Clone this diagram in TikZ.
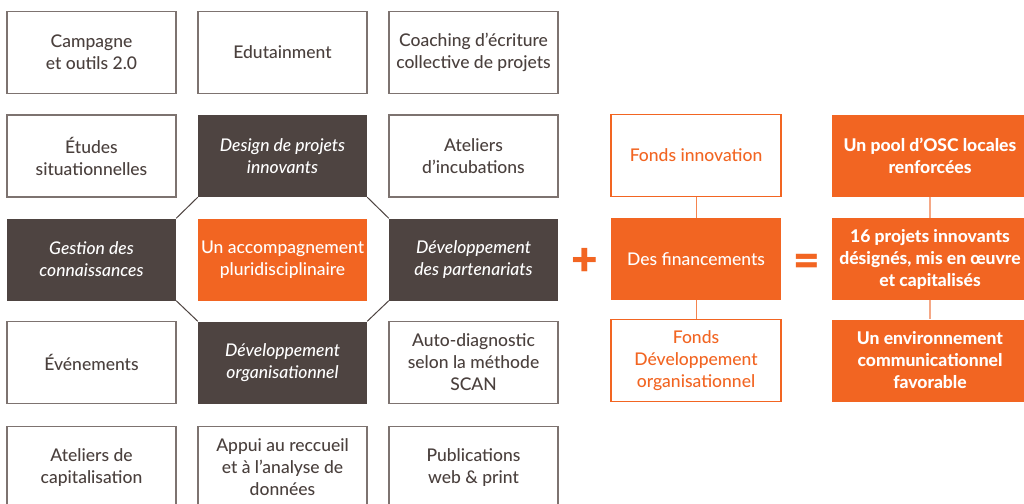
\documentclass[tikz,border=0pt]{standalone}
\usepackage{fontspec}
\setmainfont{Lato Medium}[ItalicFont={Lato Medium Italic}, BoldFont={Lato Heavy}]
\newfontfamily\heavyfont{Lato Black}
\definecolor{ink}{HTML}{4A403D}
\definecolor{cocoa}{HTML}{4E4441}
\definecolor{frame}{HTML}{7D7370}
\definecolor{brand}{HTML}{F26522}
\definecolor{peach}{HTML}{F5A886}
\tikzset{
  cell/.style={minimum width=169pt, minimum height=82pt, align=center, inner sep=2pt,
    font=\fontsize{17.5}{22}\selectfont},
  plainbox/.style={cell, draw=frame, line width=1.1pt, fill=white, text=ink},
  darkbox/.style={cell, fill=cocoa, text=white, font=\fontsize{17.5}{22}\selectfont\itshape},
  corebox/.style={cell, fill=brand, text=white},
  fundbox/.style={cell, minimum width=170pt, draw=brand, line width=1.5pt, fill=white, text=brand},
  resultbox/.style={cell, minimum width=196pt, fill=brand, text=white, font=\fontsize{17.5}{22}\selectfont\bfseries},
  octo/.style={draw=cocoa, line width=1pt},
  link/.style={draw=brand!80, line width=1pt},
  reslink/.style={draw=peach, line width=1.2pt},
  sign/.style={text=brand, font=\fontsize{46}{46}\selectfont\heavyfont, inner sep=0pt}
}
\begin{document}
\begin{tikzpicture}[x=1pt, y=-1pt]
\useasboundingbox (0,0) rectangle (1024,503);
\clip (0,0) rectangle (1024,503);
\fill[white] (0,0) rectangle (1024,503);

% outer ring of activity boxes
\node[plainbox] (camp) at (91.5,52.5) {Campagne\\et outils 2.0};
\node[plainbox] (edu)  at (282.5,52.5) {Edutainment};
\node[plainbox] (coach) at (473.5,52.5) {Coaching d’écriture\\collective de projets};
\node[plainbox] (etud) at (91.5,156) {Études\\situationnelles};
\node[plainbox] (incub) at (473.5,156) {Ateliers\\d’incubations};
\node[plainbox] (even) at (91.5,362.5) {Événements};
\node[plainbox] (scan) at (473.5,362.5) {Auto-diagnostic\\selon la méthode\\SCAN};
\node[plainbox] (capi) at (91.5,467.5) {Ateliers de\\capitalisation};
\node[plainbox] (appui) at (282.5,467.5) {Appui au reccueil\\et à l’analyse de\\données};
\node[plainbox] (pub) at (473.5,467.5) {Publications\\web \& print};

% the four axes around the core
\node[darkbox] (design) at (282.5,156) {Design de projets\\innovants};
\node[darkbox] (gest) at (91.5,259.5) {Gestion des\\connaissances};
\node[darkbox] (part) at (473.5,259.5) {Développement\\des partenariats};
\node[darkbox] (orga) at (282.5,362.5) {Développement\\organisationnel};
\node[corebox] (core) at (282.5,259.5) {Un accompagnement\\pluridisciplinaire};

% octagonal ring joining the axes
\draw[octo] (gest.north east) -- (design.south west);
\draw[octo] (design.south east) -- (part.north west);
\draw[octo] (part.south west) -- (orga.north east);
\draw[octo] (orga.north west) -- (gest.south east);

% funding column
\node[fundbox] (finno) at (696,155.5) {Fonds innovation};
\node[cell, minimum width=170pt, fill=brand, text=white] (fin) at (696,259) {Des financements};
\node[fundbox] (fdev) at (696,360.5) {Fonds\\Développement\\organisationnel};
\draw[link] (finno) -- (fin);
\draw[link] (fin) -- (fdev);

% results column
\node[resultbox] (pool) at (930,155.5) {Un pool d’OSC locales\\renforcées};
\node[resultbox] (proj) at (930,259) {16 projets innovants\\désignés, mis en œuvre\\et capitalisés};
\node[resultbox] (envi) at (930,360.5) {Un environnement\\communicationnel\\favorable};
\draw[reslink] (pool) -- (proj);
\draw[reslink] (proj) -- (envi);

% operators
\node[sign] (plus) at (585,262) {+};
\node[sign] (eq) at (807,265) {=};
\end{tikzpicture}
\end{document}
